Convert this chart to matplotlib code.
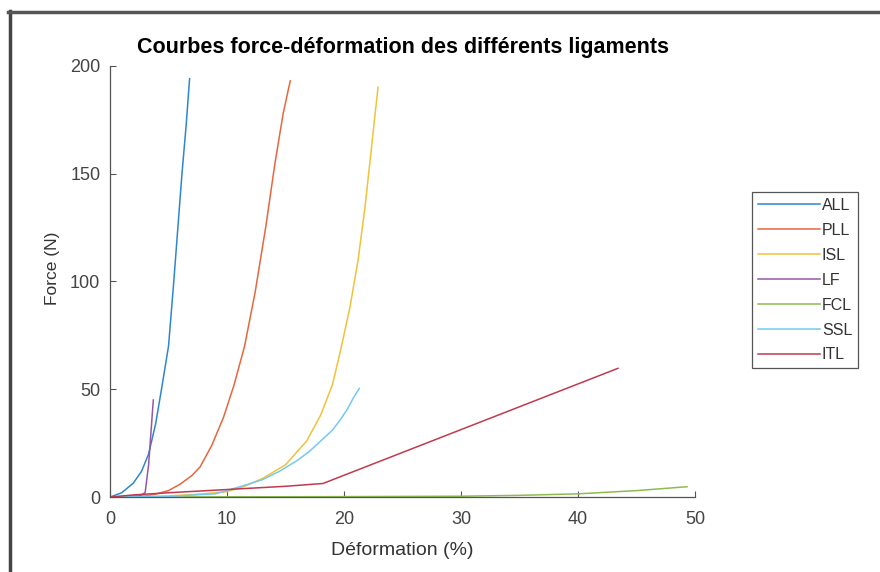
import matplotlib
matplotlib.use("Agg")
import matplotlib.pyplot as plt
from matplotlib.lines import Line2D

plt.rcParams['font.family'] = ['Liberation Sans', 'DejaVu Sans']

# deformation (%) / force (N) for each ligament
all_x = [0, 1.0, 2.0, 2.7, 3.3, 3.9, 4.4, 5.0, 5.45, 5.8, 6.15, 6.5, 6.8]
all_y = [0, 2, 6.5, 12, 20, 34, 50, 70, 100, 125, 150, 172, 194]
pll_x = [0, 3.0, 4.0, 5.0, 6.0, 7.0, 7.7, 8.7, 9.7, 10.6, 11.5, 12.4, 13.3, 14.1, 14.8, 15.4]
pll_y = [0, 0.5, 1.5, 3, 6, 10, 14, 24, 37, 52, 70, 95, 125, 155, 178, 193]
isl_x = [0, 5.0, 8.0, 10.0, 11.5, 13.1, 15.0, 16.8, 18.0, 19.0, 19.7, 20.5, 21.2, 21.8, 22.3, 22.9]
isl_y = [0, 0.5, 1.5, 2.5, 5, 8.8, 15, 26, 38, 52, 68, 88, 110, 135, 160, 190]
lf_x = [0, 2.5, 3.0, 3.3, 3.5, 3.7]
lf_y = [0, 0.5, 2, 15, 30, 45]
fcl_x = [0, 10, 20, 30, 35, 40, 45, 49.3]
fcl_y = [0, 0.1, 0.2, 0.4, 0.8, 1.5, 3.0, 4.8]
ssl_x = [0, 5.0, 9.0, 11.1, 13.0, 14.5, 16.0, 17.0, 18.0, 19.0, 19.7, 20.3, 20.8, 21.3]
ssl_y = [0, 0.3, 1.5, 4.8, 8, 12, 17, 21, 26, 31, 36, 41, 46, 50.4]
itl_x = [0, 2.0, 5.0, 10.0, 15.0, 18.2, 43.4]
itl_y = [0, 1, 2, 3.5, 5, 6.3, 59.7]

names = ['ALL', 'PLL', 'ISL', 'LF', 'FCL', 'SSL', 'ITL']
colors = ['#2f86d0', '#e8663f', '#f0c23a', '#9457a8', '#8ebb4e', '#74c9f0', '#c0394f']
series = [(all_x, all_y), (pll_x, pll_y), (isl_x, isl_y), (lf_x, lf_y),
          (fcl_x, fcl_y), (ssl_x, ssl_y), (itl_x, itl_y)]

fig = plt.figure(figsize=(8.8, 5.72), dpi=100)
ax = fig.add_axes([0.125, 0.131, 0.665, 0.754])

for (x, y), name, c in zip(series, names, colors):
    ax.plot(x, y, color=c, lw=1.1, label=name)

ax.set_xlim(0, 50)
ax.set_ylim(0, 200)
ax.set_xticks([0, 10, 20, 30, 40, 50])
ax.set_yticks([0, 50, 100, 150, 200])
for s in ['top', 'right']:
    ax.spines[s].set_visible(False)
for s in ['left', 'bottom']:
    ax.spines[s].set_color('#555555')
    ax.spines[s].set_linewidth(0.9)
ax.tick_params(direction='in', length=4, colors='#555555', labelsize=13,
               labelcolor='#444444')
ax.tick_params(axis='x', pad=10)
ax.tick_params(axis='y', pad=7)

ax.set_title('Courbes force-déformation des différents ligaments',
             fontsize=15.5, fontweight='bold', pad=9)
ax.set_xlabel('Déformation (%)', fontsize=14, color='#333333', labelpad=10)
ax.set_ylabel('Force (N)', fontsize=12.5, color='#333333')
ax.yaxis.set_label_coords(-0.085, 0.53)

leg = ax.legend(loc='center left', bbox_to_anchor=(0.855, 0.51),
                bbox_transform=fig.transFigure, fontsize=11.5,
                handlelength=3.9, handletextpad=0.1, labelspacing=0.62,
                borderpad=0.35, borderaxespad=0, fancybox=False, framealpha=1)
leg.get_frame().set_edgecolor('#555555')
leg.get_frame().set_linewidth(0.9)
for t in leg.get_texts():
    t.set_color('#333333')

# window edge
fig.add_artist(Line2D([0.011, 0.011], [0, 0.98], color='#444444', lw=2.5,
                      transform=fig.transFigure))
fig.add_artist(Line2D([0.009, 1], [0.979, 0.979], color='#555555', lw=2.5,
                      transform=fig.transFigure))

fig.savefig('out.png', dpi=100)
